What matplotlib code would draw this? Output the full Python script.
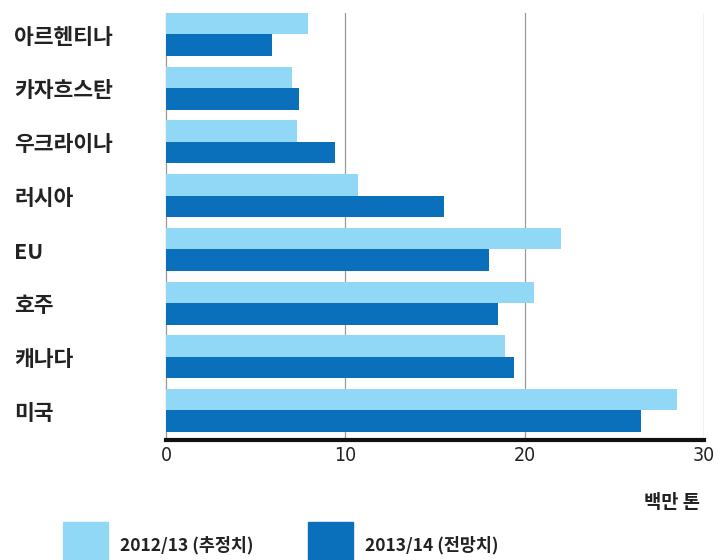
import matplotlib
matplotlib.use('Agg')
import matplotlib.pyplot as plt
from matplotlib.patches import Rectangle
import numpy as np

plt.rcParams['font.family'] = ['Noto Sans CJK KR', 'DejaVu Sans']

# 데이터 (백만 톤)
countries = ['아르헨티나', '카자흐스탄', '우크라이나', '러시아', 'EU', '호주', '캐나다', '미국']
est_2012 = [7.9, 7.0, 7.3, 10.7, 22.0, 20.5, 18.9, 28.5]
fc_2013 = [5.9, 7.4, 9.4, 15.5, 18.0, 18.5, 19.4, 26.5]
series_names = ['2012/13 (추정치)', '2013/14 (전망치)']
x_ticks = [0, 10, 20, 30]

light = '#91d8f7'
dark = '#0a70bb'

fig = plt.figure(figsize=(7.18, 5.6), dpi=100)
ax = fig.add_axes([0.2312, 0.2143, 0.7493, 0.7625])

y = np.arange(len(countries))
ax.barh(y - 0.2, est_2012, height=0.4, color=light, zorder=3)
ax.barh(y + 0.2, fc_2013, height=0.4, color=dark, zorder=3)

ax.set_xlim(0, 30)
ax.set_ylim(7.55, -0.4)
ax.set_xticks(x_ticks)
ax.set_xticklabels([str(t) for t in x_ticks], fontsize=14,
                   family='DejaVu Sans', fontstretch='condensed', color='#222222')
ax.tick_params(axis='x', length=0, pad=4)
ax.set_yticks([])

for t in x_ticks[1:]:
    ax.axvline(t, color='#999999', linewidth=0.9, zorder=1)

for s in ['top', 'right']:
    ax.spines[s].set_visible(False)
ax.spines['left'].set_color('#999999')
ax.spines['left'].set_linewidth(0.9)
ax.spines['bottom'].set_color('#111111')
ax.spines['bottom'].set_linewidth(3)
ax.spines['bottom'].set_zorder(5)

# 국가 이름 (왼쪽 정렬)
trans = matplotlib.transforms.blended_transform_factory(fig.transFigure, ax.transData)
for i, name in enumerate(countries):
    ax.text(0.02, i + 0.05, name, transform=trans,
            ha='left', va='center', fontsize=15.5, fontweight='bold', color='#222222')

# 단위
fig.text(0.975, 0.103, '백만 톤', ha='right', va='center', fontsize=13.5,
         fontweight='bold', color='#222222')

# 범례
fig.add_artist(Rectangle((0.088, -0.02), 0.063, 0.087, transform=fig.transFigure,
                         color=light, clip_on=False))
fig.add_artist(Rectangle((0.429, -0.02), 0.062, 0.087, transform=fig.transFigure,
                         color=dark, clip_on=False))
fig.text(0.167, 0.027, series_names[0], ha='left', va='center', fontsize=12.5,
         fontweight='bold', color='#222222')
fig.text(0.508, 0.027, series_names[1], ha='left', va='center', fontsize=12.5,
         fontweight='bold', color='#222222')

fig.savefig('out.png', dpi=100)
